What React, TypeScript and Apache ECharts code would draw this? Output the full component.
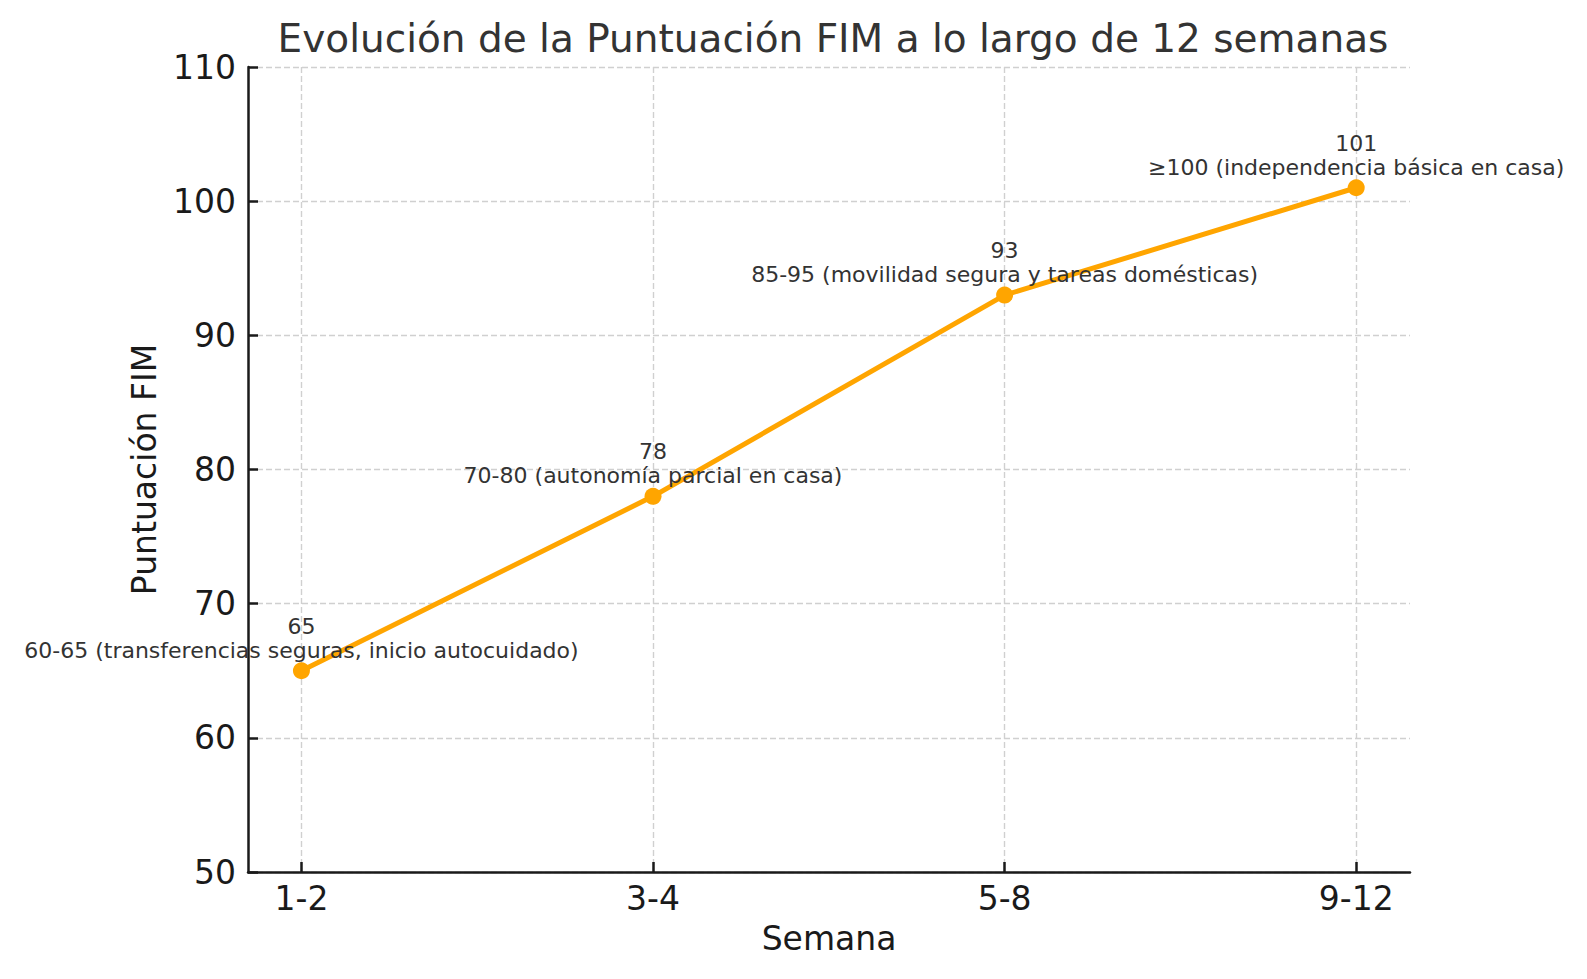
import React, { useEffect, useRef } from "react";
import * as echarts from "echarts";

const weeks = ["1-2", "3-4", "5-8", "9-12"];
const fimScores = [65, 78, 93, 101];
const milestones = [
  "60-65 (transferencias seguras, inicio autocuidado)",
  "70-80 (autonomía parcial en casa)",
  "85-95 (movilidad segura y tareas domésticas)",
  "≥100 (independencia básica en casa)",
];
const yTicks = { min: 50, max: 110, step: 10 };
const titleText = "Evolución de la Puntuación FIM a lo largo de 12 semanas";

export default function App() {
  const ref = useRef<HTMLDivElement>(null);
  useEffect(() => {
    if (!ref.current) return;
    const chart = echarts.init(ref.current, undefined, { renderer: "svg" });
    const font = "DejaVu Sans";
    const idx = weeks.map((_, i) => i);
    chart.setOption({
      animation: false,
      backgroundColor: "#ffffff",
      textStyle: { fontFamily: font },
      title: {
        text: titleText,
        left: 828,
        top: 14,
        textAlign: "center",
        textStyle: { fontFamily: font, fontSize: 39, fontWeight: "normal", color: "#333333" },
      },
      grid: { left: 248, right: 177, top: 67, bottom: 107, containLabel: false },
      xAxis: {
        type: "value",
        min: -0.152,
        max: 3.153,
        name: "Semana",
        nameLocation: "middle",
        nameGap: 50,
        nameTextStyle: { fontFamily: font, fontSize: 33, color: "#1a1a1a" },
        axisLine: { show: true, onZero: false, lineStyle: { color: "#1a1a1a", width: 2.5 } },
        axisTick: { show: true, inside: true, length: 10, customValues: idx, lineStyle: { color: "#1a1a1a", width: 2.5 } },
        axisLabel: {
          customValues: idx,
          margin: 10,
          fontFamily: font,
          fontSize: 33,
          color: "#1a1a1a",
          formatter: (v: number) => weeks[Math.round(v)] ?? "",
        },
        splitLine: { show: true, lineStyle: { color: "#d0d0d0", width: 1.4, type: [6, 3] } },
      },
      yAxis: {
        type: "value",
        min: yTicks.min,
        max: yTicks.max,
        interval: yTicks.step,
        name: "Puntuación FIM",
        nameLocation: "middle",
        nameGap: 87,
        nameTextStyle: { fontFamily: font, fontSize: 33, color: "#1a1a1a" },
        axisLine: { show: true, onZero: false, lineStyle: { color: "#1a1a1a", width: 2.5 } },
        axisTick: { show: true, inside: true, length: 10, lineStyle: { color: "#1a1a1a", width: 2.5 } },
        axisLabel: { margin: 12, fontFamily: font, fontSize: 33, color: "#1a1a1a" },
        splitLine: { show: true, lineStyle: { color: "#d0d0d0", width: 1.4, type: [6, 3] } },
      },
      series: [
        {
          type: "line",
          data: fimScores.map((v, i) => [i, v]),
          color: "#FFA500",
          lineStyle: { width: 5, color: "#FFA500" },
          symbol: "circle",
          symbolSize: 17,
          itemStyle: { color: "#FFA500" },
          label: {
            show: true,
            position: "top",
            distance: 0,
            formatter: (p: any) => `{v|${fimScores[p.dataIndex]}}\n{d|${milestones[p.dataIndex]}}`,
            rich: {
              v: { fontFamily: font, fontSize: 22, color: "#333333", lineHeight: 24, align: "center" },
              d: { fontFamily: font, fontSize: 22, color: "#333333", lineHeight: 24, align: "center" },
            },
          },
        },
      ],
    });
    return () => chart.dispose();
  }, []);
  return <div ref={ref} style={{ position: "fixed", left: 0, top: 0, width: 1587, height: 979 }} />;
}
